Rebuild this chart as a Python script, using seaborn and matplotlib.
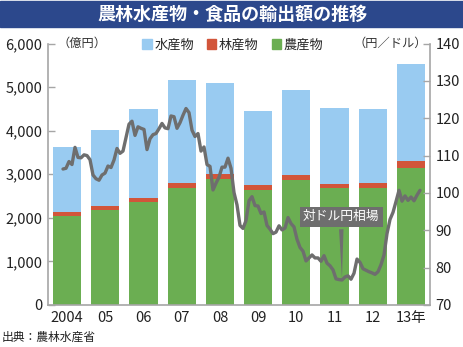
import numpy as np
import pandas as pd
import matplotlib
matplotlib.use("Agg")
import matplotlib.pyplot as plt
import seaborn as sns
from matplotlib.patches import Patch, Rectangle

# ---- data ----
years = ["2004", "05", "06", "07", "08", "09", "10", "11", "12", "13年"]
agri = [2045, 2175, 2370, 2690, 2890, 2635, 2870, 2675, 2695, 3145]     # 農産物
forest = [88, 92, 88, 100, 115, 107, 110, 108, 115, 155]                # 林産物
fish = [1487, 1753, 2042, 2380, 2085, 1718, 1950, 1737, 1690, 2220]     # 水産物

# 対ドル円相場 (monthly, Jan 2004 - Dec 2013)
rate = [
    106.4, 106.6, 108.4, 107.6, 112.2, 109.5, 109.4, 110.2, 110.0, 108.9, 104.8, 103.8,
    103.4, 104.8, 105.3, 107.2, 106.8, 108.8, 111.9, 110.6, 111.2, 114.8, 118.4, 119.2,
    115.4, 117.7, 117.3, 117.0, 111.6, 114.5, 115.6, 115.9, 117.2, 118.6, 117.4, 117.2,
    120.6, 120.4, 117.3, 118.8, 120.8, 122.6, 121.5, 116.8, 115.1, 115.9, 111.2, 112.3,
    107.6, 107.1, 100.8, 102.6, 104.2, 106.9, 106.9, 109.3, 106.6, 100.1, 96.8, 91.3,
    90.5, 92.6, 97.9, 99.0, 96.6, 96.5, 94.5, 94.9, 91.3, 90.3, 89.1, 89.5,
    91.2, 90.1, 90.6, 93.4, 91.8, 90.9, 87.6, 85.4, 84.4, 81.8, 82.6, 83.4,
    82.6, 82.6, 81.7, 83.2, 81.2, 80.5, 79.4, 77.0, 76.8, 76.7, 77.5, 77.8,
    76.9, 78.5, 82.3, 81.4, 79.7, 79.3, 78.9, 78.6, 78.2, 78.9, 80.8, 83.4,
    89.1, 92.9, 94.8, 97.7, 100.7, 97.8, 99.2, 98.0, 98.9, 97.9, 99.4, 100.7,
]
left_ticks = [0, 1000, 2000, 3000, 4000, 5000, 6000]
right_ticks = [70, 80, 90, 100, 110, 120, 130, 140]

BLUE = "#99CBF1"
RED = "#D2553A"
GREEN = "#6BAE52"
LINE = "#6E6E6E"
NAVY = "#2C488C"
AXC = "#A6A6A6"

sns.set_theme(style="white")
plt.rcParams['font.family'] = ['Noto Sans CJK JP', 'DejaVu Sans']

W, H = 464, 347
fig = plt.figure(figsize=(W / 100, H / 100), dpi=100)
L, R, B, T = 48 / W, 430 / W, (H - 305) / H, (H - 43.5) / H
ax = fig.add_axes([L, B, R - L, T - B])

df = pd.DataFrame({"year": years, "agri": agri, "forest": forest, "fish": fish})
df["top_forest"] = df["agri"] + df["forest"]
df["top_fish"] = df["top_forest"] + df["fish"]

for col, c in [("top_fish", BLUE), ("top_forest", RED), ("agri", GREEN)]:
    sns.barplot(data=df, x="year", y=col, color=c, width=0.74, saturation=1,
                ax=ax, linewidth=0)

ax.set_xlim(-0.5, 9.5)
ax.set_ylim(0, 6000)
ax.set_xlabel("")
ax.set_ylabel("")
ax.set_yticks(left_ticks)
ax.set_yticklabels([f"{v:,}" for v in left_ticks])
ax.set_xticks(range(len(years)))
ax.set_xticklabels(years)
ax.set_xticks(np.arange(0.5, 9.0, 1.0), minor=True)
ax.tick_params(axis="x", which="major", length=0, pad=4, labelsize=10.5, colors="#222222")
ax.tick_params(axis="x", which="minor", direction="in", length=7, width=1, color=AXC)
ax.tick_params(axis="y", direction="in", length=5, width=1, color=AXC, pad=4,
               labelsize=10.5, labelcolor="#222222", left=True)
for s in ["top", "right"]:
    ax.spines[s].set_visible(False)
for s in ["left", "bottom"]:
    ax.spines[s].set_color(AXC)
    ax.spines[s].set_linewidth(1.2)

# secondary axes for the exchange-rate line
ax2 = fig.add_axes([L, B, R - L, T - B])
ax2.patch.set_visible(False)
rdf = pd.DataFrame({"month": np.arange(len(rate)), "rate": rate})
sns.lineplot(data=rdf, x="month", y="rate", ax=ax2, color=LINE, linewidth=2.4)
ax2.set_xlim(-5, 122.33)
ax2.set_ylim(70, 140)
ax2.set_xlabel("")
ax2.set_ylabel("")
ax2.xaxis.set_visible(False)
ax2.yaxis.tick_right()
ax2.set_yticks(right_ticks)
ax2.tick_params(axis="y", direction="in", length=5, width=1, color=AXC, pad=4,
                labelsize=10.5, labelcolor="#222222", right=True, left=False)
for s in ["top", "left", "bottom"]:
    ax2.spines[s].set_visible(False)
ax2.spines["right"].set_color(AXC)
ax2.spines["right"].set_linewidth(1.2)

ax2.annotate("対ドル円相場", xy=(93, rate[93] - 0.3), xytext=(92.7, 93.6),
             ha="center", va="center", fontsize=9.2, color="white",
             bbox=dict(boxstyle="square,pad=0.25", fc="#6E6E6E", ec="none"),
             arrowprops=dict(arrowstyle="wedge,tail_width=0.35,shrink_factor=0.5",
                             fc="#6E6E6E", ec="none"))

# unit labels
fig.text(57 / W, 1 - 43 / H, "（億円）", fontsize=8.8, va="center", ha="left", color="#333333")
fig.text(427 / W, 1 - 43 / H, "（円／ドル）", fontsize=8.8, va="center", ha="right", color="#333333")

# legend
handles = [Patch(color=BLUE, label="水産物"), Patch(color=RED, label="林産物"),
           Patch(color=GREEN, label="農産物")]
fig.legend(handles=handles, loc="center", bbox_to_anchor=(233 / W, 1 - 45 / H), ncol=3,
           frameon=False, fontsize=9.5, handlelength=0.7, handleheight=0.7,
           handletextpad=0.2, columnspacing=1.0, borderpad=0)

# title band
fig.patches.append(Rectangle((0, 1 - 27 / H), 1, 26 / H, transform=fig.transFigure,
                             color=NAVY, zorder=0))
fig.text(232 / W, 1 - 14 / H, "農林水産物・食品の輸出額の推移", fontsize=13,
         color="white", ha="center", va="center", weight="bold")

# source
fig.text(2 / W, 1 - 337 / H, "出典：農林水産省", fontsize=8.5, ha="left", va="center",
         color="#222222")

fig.savefig("out.png", dpi=100)
